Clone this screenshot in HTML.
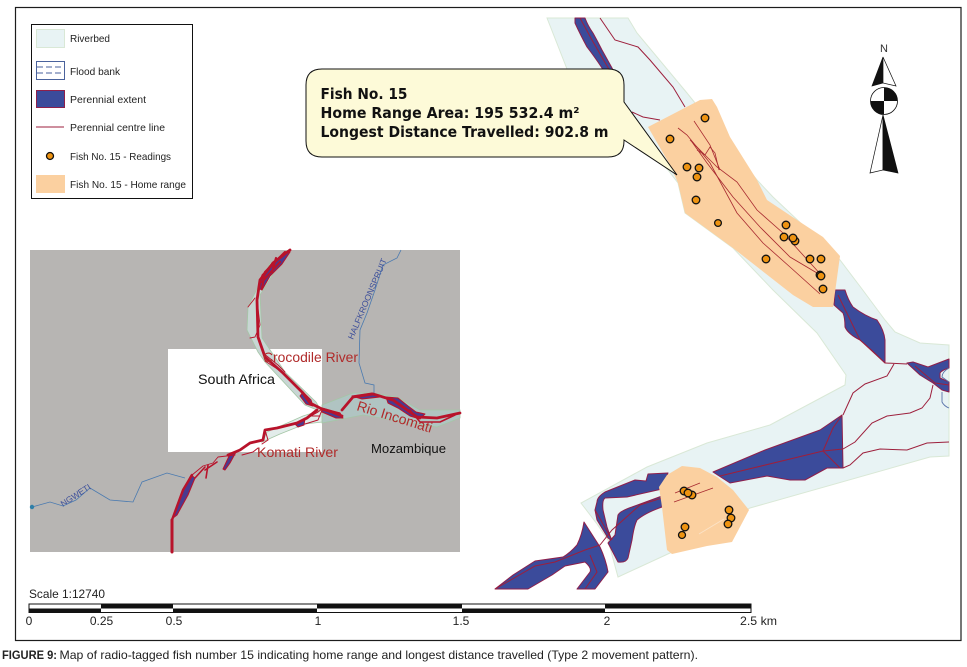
<!DOCTYPE html>
<html><head><meta charset="utf-8"><style>
html,body{margin:0;padding:0;background:#fff}
svg{display:block}
text{font-family:"Liberation Sans",sans-serif}
</style></head><body>
<svg width="967" height="667" viewBox="0 0 967 667" xmlns="http://www.w3.org/2000/svg">
<rect width="967" height="667" fill="#fff"/>
<rect x="15.5" y="7.5" width="945.500" height="633" fill="none" stroke="#1c1c1c" stroke-width="1.2"/>

<!-- Riverbeds -->
<g fill="#e8f3f4" stroke="#d9e8d6" stroke-width="1">
<path d="M547,18 L567,69 L620,122 L668,170 L678,183 L685,213 L733,248 L773,290 L817,333 L846,375 L845,385 L770,425 L707,443 L647,467 L581,503 L597,524 L608,540 L618,577 L670,553 L750,508 L930,457 L949,456 L949,345 L920,343 L895,332 L885,320 L862,289 L840,260 L773,197 L757,180 L687,93 L637,33 L628,18 Z"/>
</g>

<!-- Perennial extent -->
<g fill="#3b4b9b" stroke="#8e1f4b" stroke-width="1" stroke-linejoin="round">
<path d="M575,18 L585,18 Q588,26 593,33 Q598,42 602,50 L612,68 L624,92 L624,112 L610,85 L602,68 Q594,56 587,47 Q580,34 575,23 Z"/>
<path d="M835,290 L845,290 Q848,300 853,307 Q865,316 877,320 Q884,330 885,340 L885,363 Q872,350 860,340 Q848,334 845,327 Q845,318 843,313 L834,305 Z"/>
<path d="M907,363 L913,362 L928,367 L949,359 L949,368 Q942,370 940,373 L940,378 L949,382 L949,392 L942,390 L933,383 L920,375 Z"/>
<path d="M713,472 L765,450 L820,430 L842,415 L843,468 L827,468 L805,480 L790,480 L767,476 L730,483 Z"/>
<path d="M668,473 L648,474 L646,481 L635,480 L605,492 Q597,497 597,502 L595,510 L597,520 L608,538 L612,541 L607,527 L603,510 Q602,500 605,498 L627,497 L662,489 Z"/>
<path d="M662,496 L632,507 Q620,511 618,515 L615,535 L608,543 L618,562 Q626,563 628,558 L632,540 Q634,526 637,520 Q645,513 662,507 Z"/>
<path d="M584,522 Q582,535 577,545 Q570,553 563,557 L535,561 L513,575 L495,589 L528,589 L552,575 L565,566 L585,562 Q592,568 590,572 L577,589 L595,589 L608,572 Q606,560 600,547 Z"/>
</g>

<!-- Centre lines -->
<g fill="none" stroke="#9d1f3c" stroke-width="1">
<path d="M600,18 L615,40 L638,47 L650,60 L673,87 L685,107"/>
<path d="M632,112 L643,117 L660,120"/>
<path d="M580,18 L592,40 L607,66 L622,90"/>
<path d="M885,363 L907,364"/>
<path d="M894,364 L887,376 L865,384 L853,393 L843,415"/>
<path d="M933,385 L930,398 L922,408 L910,413 L887,416 L872,423 L855,442 L843,449"/>
<path d="M949,442 L927,443 L907,450 L880,449 L863,453 L850,465 L843,468"/>
<path d="M838,295 L860,340 L885,363"/>
<path d="M915,366 L935,383 L949,385"/>
<path d="M843,449 L823,451 L720,476"/>
<path d="M823,451 L833,428 L842,415 M823,451 L840,468"/>
<path d="M662,498 L640,505 L612,530 L600,545 L585,550 L555,562 L535,566 L495,589"/>
<path d="M590,555 L597,572 L585,589"/>
<path d="M595,510 L612,540"/>
</g>
<!-- Flood bank fragment -->
<path d="M949,368 Q942,372 942,377 L949,382 M942,392 V402 Q944,406 949,408" fill="none" stroke="#5a74aa" stroke-width="0.9"/>

<!-- Home range -->
<g fill="#fbd0a0">
<path d="M648,127 L700,100 L712,99 L717,107 L730,137 L757,180 L767,200 L797,220 L823,237 L840,256 L833,307 L813,307 L793,295 L770,277 L733,248 L685,213 L678,183 L670,165 Z"/>
<path d="M682,466 L700,468 L717,477 L733,490 L749,510 L732,542 L707,546 L672,554 L667,550 L662,507 L659,487 L667,475 Z"/>
</g>
<g fill="none" stroke="#a82a30" stroke-width="0.8">
<path d="M694,121 L710,145 L720,170"/>
<path d="M678,128 L687,135 L710,163 L737,213 L763,243 L790,267 L820,294"/>
<path d="M690,140 L717,167 L737,182 L757,210 L783,233 L823,277"/>
<path d="M692,142 L707,163 L733,197 L760,227 L790,257 L817,273"/>
<path d="M697,150 L705,155 L710,147 L715,153 L719,170"/>
<path d="M675,493 L700,483 M674,502 L713,488"/>
</g>
<path d="M699,534 L724,519" stroke="#fbe3c8" stroke-width="0.8" fill="none"/>

<!-- Readings -->
<g fill="#ee9311" stroke="#111" stroke-width="1.300">
<circle cx="705" cy="118" r="3.800"/><circle cx="670" cy="139" r="3.800"/><circle cx="687" cy="167" r="3.800"/><circle cx="699" cy="168" r="3.800"/><circle cx="697" cy="177" r="3.800"/><circle cx="696" cy="200" r="3.800"/><circle cx="718" cy="223" r="3.400"/><circle cx="766" cy="259" r="3.800"/><circle cx="786" cy="225" r="3.800"/><circle cx="795" cy="241" r="3.800"/><circle cx="784" cy="237" r="3.800"/><circle cx="793" cy="238" r="3.800"/><circle cx="810" cy="259" r="3.800"/><circle cx="821" cy="259" r="3.800"/><circle cx="820" cy="275" r="3.800"/><circle cx="821" cy="276" r="3.800"/><circle cx="823" cy="289" r="3.800"/>
<circle cx="684" cy="491" r="3.800"/><circle cx="692" cy="495" r="3.800"/><circle cx="688" cy="493" r="3.800"/><circle cx="729" cy="510" r="3.800"/><circle cx="731" cy="518" r="3.800"/><circle cx="728" cy="524" r="3.800"/><circle cx="685" cy="527" r="3.800"/><circle cx="682" cy="535" r="3.500"/>
</g>

<!-- Callout -->
<path d="M322,69 H608 Q624,69 624,85 V102 L677,175 L624,140 V141 Q624,157 608,157 H322 Q306,157 306,141 V85 Q306,69 322,69 Z" fill="#fdfad8" stroke="#111" stroke-width="1"/>
<g font-weight="bold" font-size="15" fill="#111" style="font-family:'DejaVu Sans',sans-serif">
<text x="320.500" y="99" textLength="87" lengthAdjust="spacingAndGlyphs" style="font-family:'DejaVu Sans',sans-serif">Fish No. 15</text>
<text x="320.500" y="118" textLength="259" lengthAdjust="spacingAndGlyphs" style="font-family:'DejaVu Sans',sans-serif">Home Range Area: 195 532.4 m²</text>
<text x="320.500" y="137" textLength="288" lengthAdjust="spacingAndGlyphs" style="font-family:'DejaVu Sans',sans-serif">Longest Distance Travelled: 902.8 m</text>
</g>

<!-- Legend -->
<rect x="31.500" y="24.500" width="161" height="174" fill="#fff" stroke="#111" stroke-width="1"/>
<rect x="36.500" y="29.500" width="28" height="18" fill="#e8f3f4" stroke="#d9e8d6"/>
<rect x="36.500" y="61.500" width="28" height="18" fill="#fff" stroke="#4a629c"/>
<path d="M37,67 H65 M37,73 H65" stroke="#4a629c" stroke-dasharray="6 3" fill="none"/>
<rect x="36.500" y="90.500" width="28" height="17" fill="#3b4b9b" stroke="#8e1f4b" stroke-width="1"/>
<path d="M36,127 H64" stroke="#9d1f3c" stroke-width="1"/>
<circle cx="50" cy="156" r="3.500" fill="#ee9311" stroke="#111" stroke-width="1.300"/>
<rect x="36" y="175" width="29" height="18" fill="#fbd0a0"/>
<g font-size="10.500" fill="#222">
<text x="70" y="42" textLength="40" lengthAdjust="spacingAndGlyphs">Riverbed</text>
<text x="70" y="75" textLength="50" lengthAdjust="spacingAndGlyphs">Flood bank</text>
<text x="70" y="103" textLength="76" lengthAdjust="spacingAndGlyphs">Perennial extent</text>
<text x="70" y="131" textLength="95" lengthAdjust="spacingAndGlyphs">Perennial centre line</text>
<text x="70" y="160" textLength="101" lengthAdjust="spacingAndGlyphs">Fish No. 15 - Readings</text>
<text x="70" y="188" textLength="116" lengthAdjust="spacingAndGlyphs">Fish No. 15 - Home range</text>
</g>

<!-- North arrow -->
<text x="884" y="52" font-size="11" fill="#333" text-anchor="middle">N</text>
<path d="M883,57 L872,86 L883,83 Z" fill="#111" stroke="#111" stroke-width="0.7"/>
<path d="M883,57 L896,86 L883,83 Z" fill="#fff" stroke="#111" stroke-width="0.7"/>
<circle cx="884" cy="101" r="13.500" fill="#fff" stroke="#111" stroke-width="0.8"/>
<path d="M884,101 V87.500 A13.500,13.500 0 0 1 897.500,101 Z M884,101 V114.500 A13.500,13.500 0 0 1 870.500,101 Z" fill="#111"/>
<path d="M883,115 L870,173 L883,170 Z" fill="#fff" stroke="#111" stroke-width="0.7"/>
<path d="M883,115 L898,173 L883,170 Z" fill="#111" stroke="#111" stroke-width="0.7"/>

<!-- Inset -->
<rect x="30" y="250" width="430" height="302" fill="#b7b5b3"/>
<rect x="168" y="349" width="154" height="103" fill="#fff"/>
<g fill="#b0c4c2" stroke="#a4c6a6" stroke-width="0.8">
<path d="M270,263 L248,307 L247,330 L258,352 L265,362 L305,405 L322,412 L316,402 L285,372 L262,338 L260,295 L280,263 Z" fill="#c8d6d4"/>
<path d="M322,405 L353,393 L373,393 L397,397 L420,410 L460,410 L460,418 L437,427 L410,423 L363,415 L322,423 Z"/>
<path d="M303,416 L267,432 L262,442 L280,434 L305,424 L322,422 L322,410 Z" fill="#e2ecea"/>
</g>
<g fill="none" stroke="#4a7ab0" stroke-width="0.8">
<path d="M32,507 L50,502 L63,506 L76,500 L90,488 L110,500 L133,502 L142,482 L167,473 L185,478"/>
<path d="M401,250 L397,258 L383,265 L375,290 L367,313 L360,330 L359,363 L365,383 L374,385 L374,394"/>
</g>
<circle cx="32" cy="507" r="2.200" fill="#2f7fa8"/>
<g fill="#4a3a8f" stroke="#b8132b" stroke-width="1" stroke-linejoin="round">
<path d="M288,251 L275,261 L262,275 L258,288 L262,290 L270,276 L282,264 L290,252 Z"/>
<path d="M303,392 L311,400 L313,406 L306,404 L300,396 Z"/>
<path d="M322,408 L340,413 L343,418 L336,418 L322,412 Z"/>
<path d="M386,397 L398,398 L408,406 L416,412 L425,414 L420,419 L410,416 L398,408 L388,403 Z"/>
<path d="M183,490 L191,475 L195,478 L188,495 L177,515 L173,518 Z"/>
<path d="M295,424 L305,418 L304,425 L298,427 Z"/>
<path d="M223,469 L230,454 L236,452 L230,463 L225,470 Z"/>
<path d="M352,396 L372,393 L380,397 L362,399 Z"/>
</g>
<g fill="none" stroke="#b8132b" stroke-linejoin="round" stroke-linecap="round">
<path d="M290,250 L273,263 L260,280 L257,300 L258,337 L265,357 L283,373 L303,393 L310,403 L322,409" stroke-width="2.800"/>
<path d="M285,252 L265,272 L262,288 M280,262 L262,282 M276,258 L272,272" stroke-width="2.200"/>
<path d="M255,298 L248,307 M257,300 L260,325 L255,337 L250,338 M263,353 L278,365 L285,372 M265,361 L282,372" stroke-width="0.9"/>
<path d="M172,552 V520" stroke-width="3"/>
<path d="M172,520 L183,490 L192,475" stroke-width="2.400"/>
<path d="M192,475 L203,466 L213,463 L218,457 L235,455" stroke-width="0.9"/>
<path d="M195,478 L205,467 M205,470 L217,462 M206,478 L208,465" stroke-width="1.600"/>
<path d="M228,455 L240,450 L250,443 L263,440 L265,430 L277,428 L297,423 L307,418 L317,410" stroke-width="2.800"/>
<path d="M242,455 L253,452 L258,448 M265,430 L268,440 L262,444" stroke-width="1"/>
<path d="M307,418 L318,412 L322,409 L340,413 M322,410 L318,420 L305,424 M308,416 L320,416" stroke-width="1"/>
<path d="M322,409 L332,412 L342,416" stroke-width="2.800"/>
<path d="M342,410 L353,397 L373,394 L393,400 L417,417 L437,418 L460,413" stroke-width="2.800"/>
<path d="M410,410 L420,422 L440,422 L455,415" stroke-width="1.600"/>
</g>
<g fill="#b02a2a">
<text x="263" y="362" font-size="14" textLength="95" lengthAdjust="spacingAndGlyphs">Crocodile River</text>
<text x="257" y="457" font-size="14" textLength="81" lengthAdjust="spacingAndGlyphs">Komati River</text>
<text transform="translate(356,410) rotate(17)" font-size="14" textLength="78" lengthAdjust="spacingAndGlyphs">Rio Incomati</text>
</g>
<text x="198" y="384" font-size="14" fill="#111" textLength="77" lengthAdjust="spacingAndGlyphs">South Africa</text>
<text x="371" y="453" font-size="13" fill="#111" textLength="75" lengthAdjust="spacingAndGlyphs">Mozambique</text>
<g fill="#3d4f9a" font-size="8.500">
<text transform="translate(353,340) rotate(-67)" textLength="87" lengthAdjust="spacingAndGlyphs">HALFKROONSPRUIT</text>
<text transform="translate(63,507) rotate(-33)" textLength="34" lengthAdjust="spacingAndGlyphs">NGWETI</text>
</g>

<!-- Scale -->
<text x="29" y="598" font-size="12" fill="#222" textLength="76" lengthAdjust="spacingAndGlyphs">Scale 1:12740</text>
<rect x="29" y="604" width="722" height="8.500" fill="#fff" stroke="#111" stroke-width="1"/>
<g fill="#111">
<rect x="101" y="604" width="72" height="4.500"/><rect x="317" y="604" width="145" height="4.500"/><rect x="605" y="604" width="146" height="4.500"/>
<rect x="29" y="608.500" width="72" height="4"/><rect x="173" y="608.500" width="144" height="4"/><rect x="462" y="608.500" width="143" height="4"/>
</g>
<g font-size="12" fill="#222" text-anchor="middle">
<text x="29" y="625">0</text><text x="101.500" y="625">0.25</text><text x="174" y="625">0.5</text><text x="318" y="625">1</text><text x="461" y="625">1.5</text><text x="607" y="625">2</text>
</g>
<text x="740" y="625" font-size="12" fill="#222" textLength="37" lengthAdjust="spacingAndGlyphs">2.5 km</text>

<!-- Caption -->
<text x="2" y="659" font-size="12" font-weight="bold" fill="#222" textLength="55" lengthAdjust="spacingAndGlyphs">FIGURE 9:</text>
<text x="59.500" y="659" font-size="12" fill="#222" textLength="638.500" lengthAdjust="spacingAndGlyphs">Map of radio-tagged fish number 15 indicating home range and longest distance travelled (Type 2 movement pattern).</text>
</svg>
</body></html>
